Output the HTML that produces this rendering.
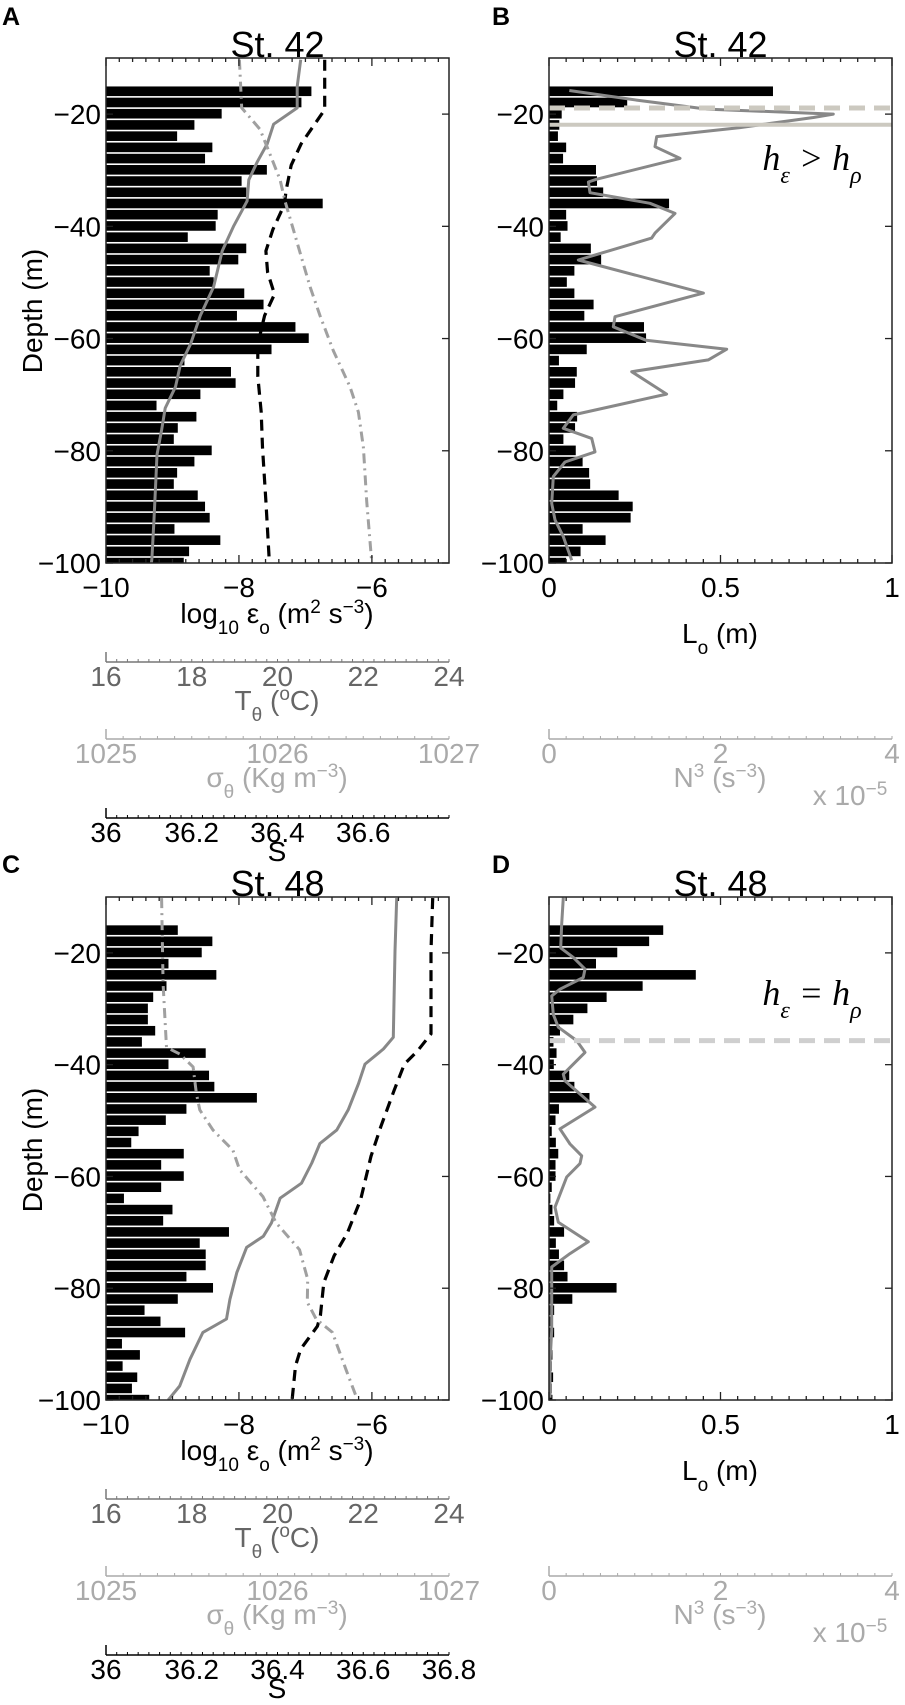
<!DOCTYPE html>
<html><head><meta charset="utf-8">
<style>
html,body{margin:0;padding:0;background:#fff;}
svg{display:block;font-family:"Liberation Sans",sans-serif;}
</style></head>
<body>
<svg id="fig" width="905" height="1705" viewBox="0 0 905 1705" xmlns="http://www.w3.org/2000/svg"></svg>
<script>
// ---------- DATA ----------
const barDepthStart = -16;
const barStep = 2;
const depthTicks = [-20,-40,-60,-80,-100];

const A_eps = [-6.91,-7.06,-8.26,-8.67,-8.93,-8.40,-8.51,-7.58,-7.96,-7.89,-6.74,-8.32,-8.35,-8.77,-7.89,-8.01,-8.44,-8.38,-7.92,-7.63,-8.03,-7.15,-6.95,-7.51,-8.82,-8.12,-8.05,-8.58,-9.24,-8.64,-8.92,-8.98,-8.41,-8.67,-8.93,-8.98,-8.62,-8.51,-8.44,-8.97,-8.28,-8.75,-8.83];
const A_Td = [-10.3,-15.1,-18.9,-21.8,-25.3,-28.5,-31.7,-35.5,-39.9,-44.4,-50.8,-55.9,-61.0,-64.8,-68.6,-72.4,-76.2,-80.7,-85.8,-92.2,-99.2,-100];
const A_T  = [20.54,20.46,20.46,19.91,19.76,19.53,19.33,19.29,18.98,18.71,18.51,18.20,17.97,17.73,17.62,17.38,17.30,17.19,17.16,17.12,17.07,17.06];
const A_Sd = [-10.3,-16.7,-19.2,-25.3,-29.1,-33.6,-36.1,-40.6,-44.4,-48.2,-52.1,-55.9,-61.0,-66.7,-73.1,-79.4,-89.0,-100];
const A_S  = [36.510,36.510,36.510,36.455,36.432,36.420,36.416,36.389,36.373,36.377,36.393,36.370,36.354,36.354,36.362,36.365,36.373,36.381];
const A_sd = [-10.3,-18.9,-22.7,-27.2,-31.7,-35.5,-40.6,-45.7,-50.8,-55.9,-62.2,-68.6,-73.1,-79.4,-89.0,-100];
const A_sig= [1025.778,1025.791,1025.898,1025.957,1026.015,1026.044,1026.093,1026.141,1026.190,1026.248,1026.326,1026.423,1026.472,1026.501,1026.520,1026.550];

const B_L = [0.653,0.228,0.037,0.03,0.026,0.05,0.041,0.137,0.14,0.158,0.35,0.05,0.054,0.034,0.122,0.152,0.074,0.052,0.074,0.13,0.103,0.277,0.283,0.110,0.029,0.081,0.076,0.042,0.024,0.082,0.076,0.042,0.078,0.098,0.117,0.120,0.203,0.244,0.238,0.098,0.165,0.092,0.05];
const B_Nd = [-15.8,-17.5,-19.1,-20.0,-20.6,-22.4,-24.0,-25.8,-27.9,-31.6,-32.1,-34.0,-35.9,-37.7,-41.2,-42.1,-46.0,-51.9,-56.1,-57.9,-60.3,-61.9,-63.8,-65.9,-69.9,-73.6,-76.0,-77.8,-80.2,-82.0,-84.6,-89.4,-92.3,-95.3,-99.5];
const B_N  = [0.237,1.022,1.839,3.316,3.083,2.227,1.256,1.236,1.528,0.556,0.459,0.478,1.178,1.469,1.236,1.197,0.342,1.80,0.770,0.750,1.131,2.072,1.858,0.964,1.372,0.283,0.167,0.498,0.536,0.187,0.050,0.031,0.070,0.167,0.265];
const B_hEps = -18.9;
const B_hRho = -21.9;

const C_eps = [-8.92,-8.40,-8.56,-9.06,-8.34,-9.09,-9.29,-9.37,-9.37,-9.26,-9.46,-8.50,-9.06,-8.45,-8.37,-7.73,-8.79,-9.10,-9.51,-9.62,-8.83,-9.17,-8.83,-9.17,-9.73,-9.00,-9.14,-8.15,-8.59,-8.50,-8.50,-8.79,-8.39,-8.92,-9.42,-9.18,-8.81,-9.76,-9.49,-9.75,-9.53,-9.61,-9.35];
const C_Td = [-10.2,-19.7,-35.1,-37.2,-39.9,-43.4,-48.1,-51.7,-54.1,-57.6,-61.2,-63.9,-68.3,-70.7,-72.7,-77.2,-82.0,-85.5,-87.9,-92.7,-97.5,-100];
const C_T  = [22.78,22.74,22.70,22.47,22.04,21.89,21.65,21.38,20.99,20.80,20.56,20.06,19.86,19.67,19.28,19.05,18.89,18.81,18.26,17.96,17.72,17.45];
const C_Sd = [-10.2,-19.7,-34.5,-37.5,-39.9,-44.6,-51.1,-56.4,-64.1,-70.1,-74.2,-79.0,-84.9,-86.8,-90.9,-93.9,-100];
const C_S  = [36.762,36.758,36.758,36.727,36.696,36.672,36.641,36.618,36.594,36.563,36.532,36.508,36.500,36.493,36.454,36.442,36.434];
const C_sd = [-10.2,-25.6,-36.9,-38.1,-40.4,-45.2,-48.1,-51.7,-55.3,-58.8,-63.6,-68.3,-73.1,-78.4,-82.5,-85.5,-87.9,-94.5,-99.3];
const C_sig= [1025.324,1025.333,1025.353,1025.430,1025.508,1025.527,1025.547,1025.624,1025.740,1025.779,1025.915,1025.992,1026.128,1026.176,1026.174,1026.225,1026.320,1026.399,1026.458];

const D_L = [0.333,0.292,0.199,0.137,0.428,0.273,0.168,0.112,0.071,0.032,0.013,0.022,0.014,0.059,0.074,0.118,0.029,0.019,0.008,0.02,0.027,0.019,0.019,0.008,0.004,0.01,0.015,0.044,0.02,0.029,0.044,0.054,0.197,0.068,0.015,0.008,0.015,0.008,0.01,0.008,0.012,0.008,0.01];
const D_Nd = [-10.1,-14.8,-19.1,-20.8,-22.9,-24.4,-26.5,-27.7,-31.0,-33.3,-35.7,-37.8,-41.7,-42.9,-47.6,-51.5,-54.2,-56.3,-57.7,-60.1,-65.5,-68.2,-71.7,-73.8,-76.2,-87.5,-93.4,-99.6];
const D_N  = [0.167,0.148,0.136,0.283,0.420,0.400,0.128,0.031,0.050,0.108,0.323,0.420,0.167,0.187,0.536,0.128,0.245,0.381,0.362,0.206,0.070,0.108,0.458,0.245,0.031,0.031,0.012,0.012];
const D_h = -35.7;

const epsDom = [-10,-4.84], epsTicks = [-10,-8,-6];
const LDom = [0,1], LTicks = [0,0.5,1], LTickLbl = ["0","0.5","1"];
const TDom = [16,24], TTicks = [16,18,20,22,24];
const sigDom = [1025,1027], sigTicks = [1025,1026,1027];
const SDom = [36,36.8], STicksA = [36,36.2,36.4,36.6], STicksC = [36,36.2,36.4,36.6,36.8];
const NDom = [0,4], NTicks = [0,2,4];

// ---------- DRAWING ----------
const NS = "http://www.w3.org/2000/svg";
const svg = document.getElementById('fig');
function mk(tag, attrs, parent){
  const e = document.createElementNS(NS, tag);
  for (const k in attrs) e.setAttribute(k, attrs[k]);
  (parent||svg).appendChild(e);
  return e;
}
function lin(dom, r0, r1){ return v => r0 + (v-dom[0])/(dom[1]-dom[0])*(r1-r0); }

function txt(x,y,s,opt,parent){
  const t = mk('text', Object.assign({x:x,y:y,'font-size':28,'text-anchor':'middle',fill:'#000'},opt||{}), parent);
  t.textContent = s;
  return t;
}

function panel(cfg){
  const g = mk('g',{});
  
  
  const X0=cfg.x0, X1=cfg.x1, Y0=cfg.y0, Y1=cfg.y1;
  const yS = lin([-10,-100], Y0, Y1);
  const xS = lin(cfg.dom, X0, X1);
  const cp = mk('clipPath',{id:'clip'+cfg.id}, g);
  mk('rect',{x:X0,y:Y0,width:X1-X0,height:Y1-Y0}, cp);
  const plot = mk('g',{'clip-path':'url(#clip'+cfg.id+')'}, g);
  const bars = mk('g',{}, plot);
  
  
  cfg.bars.forEach((v,i)=>{
    const d = barDepthStart - barStep*i;
    const yt = yS(d+barStep/2), yb = yS(d-barStep/2);
    const r = mk('rect',{x:X0,y:yt+0.4,width:Math.max(0,xS(v)-X0),height:yb-yt-1.6,fill:'#000'}, bars);
    
    
  });
  (cfg.lines||[]).forEach(L=>{
    const sc = lin(L.dom, X0, X1);
    const pts = L.d.map((d,i)=> sc(L.v[i]).toFixed(1)+','+yS(d).toFixed(1)).join(' ');
    const p = mk('polyline',{points:pts,fill:'none',stroke:L.color,'stroke-width':L.w,'stroke-dasharray':L.dash||'none','stroke-linejoin':'round'}, plot);
    
    
  });
  (cfg.hlines||[]).forEach(H=>{
    const h = mk('line',{x1:X0,x2:X1,y1:yS(H.d),y2:yS(H.d),stroke:H.color,'stroke-width':H.w,'stroke-dasharray':H.dash||'none'}, plot);
    
    
  });
  const fr = mk('rect',{x:X0,y:Y0,width:X1-X0,height:Y1-Y0,fill:'none',stroke:'#222','stroke-width':1.5}, g);
  
  
  const tk = mk('g',{stroke:'#222','stroke-width':1.3}, g);
  
  
  for (let v=cfg.dom[0]; v<=cfg.dom[1]+1e-9; v+=cfg.minor){
    const x = xS(v);
    const isMaj = Math.abs(v/cfg.major - Math.round(v/cfg.major))<1e-6;
    const len = isMaj?8:4;
    mk('line',{x1:x,x2:x,y1:Y1,y2:Y1-len}, tk);
    mk('line',{x1:x,x2:x,y1:Y0,y2:Y0+len}, tk);
  }
  depthTicks.forEach(d=>{
    mk('line',{x1:X1,x2:X1-7,y1:yS(d),y2:yS(d)}, tk);
    mk('line',{x1:X0,x2:X0+7,y1:yS(d),y2:yS(d)}, tk);
  });
  depthTicks.forEach(d=>{
    const t = txt(X0-5, yS(d)+10, '\u2212'+Math.abs(d), {'text-anchor':'end'}, g);
    
    
  });
  cfg.ticks.forEach((v,i)=>{
    const s = cfg.tickLbl ? cfg.tickLbl[i] : (v<0?'\u2212'+Math.abs(v):String(v));
    const t = txt(xS(v), Y1+34, s, {}, g);
    
    
  });
  const ti = txt((X0+X1)/2, Y0-1, cfg.title, {'font-size':36}, g);
  
  
  return {g:g, xS:xS, yS:yS};
}

function secAxis(id, X0, X1, y, dom, ticks, minorStep, color, lblColor, fmt){
  const g = mk('g',{}, svg);
  
  
  const sc = lin(dom, X0, X1);
  mk('line',{x1:X0,x2:X1,y1:y,y2:y,stroke:color,'stroke-width':1.5}, g);
  mk('line',{x1:X0,x2:X0,y1:y-10,y2:y,stroke:color,'stroke-width':1.5}, g);
  for (let v=dom[0]; v<=dom[1]+1e-9; v+=minorStep){
    mk('line',{x1:sc(v),x2:sc(v),y1:y,y2:y-3,stroke:color,'stroke-width':1}, g);
  }
  ticks.forEach(v=>{
    const t = txt(sc(v), y+24, fmt?fmt(v):String(v), {fill:lblColor}, g);
    
    
  });
}

function richLabel(x, y, parts, fill, name, serif, size){
  const fs = size||28;
  const t = mk('text',{x:x,y:y,'font-size':fs,'text-anchor':'middle',fill:fill,'font-family':serif?'"Liberation Serif",serif':'"Liberation Sans",sans-serif','font-style':serif?'italic':'normal'}, svg);
  
  
  parts.forEach(p=>{
    const s = mk('tspan', p[1]===0?{}:{'baseline-shift':p[1]>0?'super':'sub','font-size':Math.round(fs*0.68)}, t);
    s.textContent = p[0];
  });
  return t;
}

const greyT='#888', greySig='#a0a0a0';
function lines(Td,T,Sd,S,sd,sig){
  return [
    {name:'temperature-line',d:Td,v:T,dom:TDom,color:greyT,w:3},
    {name:'salinity-line',d:Sd,v:S,dom:SDom,color:'#000',w:3.2,dash:'11 7'},
    {name:'density-line',d:sd,v:sig,dom:sigDom,color:greySig,w:3,dash:'10 5 2 5'}
  ];
}

function bottomLeft(y1, cfgS){
  richLabel(277, y1+60, [['log',0],['10',-1],[' \u03b5',0],['o',-1],[' (m',0],['2',1],[' s',0],['\u22123',1],[')',0]], '#000','x-axis-title-epsilon');
  secAxis('temperature-axis',106,449,y1+99,TDom,TTicks,0.25,'#777','#666');
  richLabel(277, y1+147, [['T',0],['\u03b8',-1],[' (',0],['o',1],['C)',0]], '#666','temperature-axis-title');
  secAxis('density-axis',106,449,y1+176,sigDom,sigTicks,0.1,'#aaa','#aaa');
  richLabel(277, y1+224, [['\u03c3',0],['\u03b8',-1],[' (Kg m',0],['\u22123',1],[')',0]], '#aaa','density-axis-title');
  secAxis('salinity-axis',106,449,y1+255,SDom,cfgS,0.025,'#000','#000');
  const s = txt(277, y1+298, 'S', {}, svg);
  
  
}
function bottomRight(y1){
  richLabel(720, y1+80, [['L',0],['o',-1],[' (m)',0]], '#000','x-axis-title-lo');
  secAxis('n3-axis',549,892,y1+176,NDom,NTicks,0.2,'#aaa','#aaa');
  richLabel(720, y1+224, [['N',0],['3',1],[' (s',0],['\u22123',1],[')',0]], '#aaa','n3-axis-title');
  richLabel(850, y1+242, [['x 10',0],['\u22125',1]], '#aaa','n3-axis-multiplier');
}
function depthTitle(cy){
  const t = mk('text',{x:0,y:0,'font-size':28,'text-anchor':'middle',transform:'translate(42,'+cy+') rotate(-90)'}, svg);
  
  
  t.textContent = 'Depth (m)';
}
function letter(x,y,s){
  const t = mk('text',{x:x,y:y,'font-size':25,'font-weight':'bold'}, svg);
  
  
  t.textContent = s;
}

panel({id:'a',name:'panel-a',x0:106,x1:449,y0:58,y1:563,dom:epsDom,minor:0.2,major:2,ticks:epsTicks,title:'St. 42',bars:A_eps,lines:lines(A_Td,A_T,A_Sd,A_S,A_sd,A_sig)});
bottomLeft(563, STicksA);
depthTitle(311);
letter(2,25,'A');

panel({id:'b',name:'panel-b',x0:549,x1:892,y0:58,y1:563,dom:LDom,minor:0.05,major:0.5,ticks:LTicks,tickLbl:LTickLbl,title:'St. 42',bars:B_L,
  lines:[{name:'n3-line',d:B_Nd,v:B_N,dom:NDom,color:greyT,w:3}],
  hlines:[{name:'h-epsilon-line',d:B_hEps,color:'#ccc9c0',w:5,dash:'16 9'},{name:'h-rho-line',d:B_hRho,color:'#ccc9c0',w:4}]});
bottomRight(563);
richLabel(812,170,[['h',0],['\u03b5',-1],[' > h',0],['\u03c1',-1]],'#000','annotation-h-eps-gt-h-rho',true,36);
letter(492,25,'B');

panel({id:'c',name:'panel-c',x0:106,x1:449,y0:897,y1:1400,dom:epsDom,minor:0.2,major:2,ticks:epsTicks,title:'St. 48',bars:C_eps,lines:lines(C_Td,C_T,C_Sd,C_S,C_sd,C_sig)});
bottomLeft(1400, STicksC);
depthTitle(1150);
letter(2,873,'C');

panel({id:'d',name:'panel-d',x0:549,x1:892,y0:897,y1:1400,dom:LDom,minor:0.05,major:0.5,ticks:LTicks,tickLbl:LTickLbl,title:'St. 48',bars:D_L,
  lines:[{name:'n3-line',d:D_Nd,v:D_N,dom:NDom,color:greyT,w:3}],
  hlines:[{name:'h-line',d:D_h,color:'#cfcfcf',w:5,dash:'16 9'}]});
bottomRight(1400);
richLabel(812,1005,[['h',0],['\u03b5',-1],[' = h',0],['\u03c1',-1]],'#000','annotation-h-eps-eq-h-rho',true,36);
letter(492,873,'D');
</script>
</body></html>
